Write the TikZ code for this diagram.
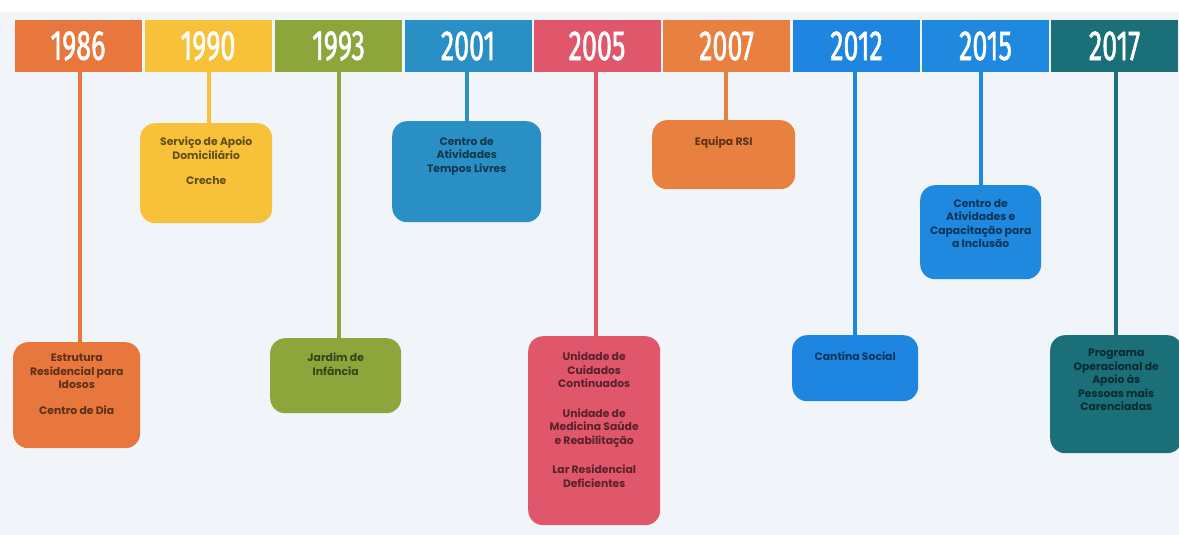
\documentclass[tikz,border=0pt]{standalone}
\usepackage{fontspec}
\usepackage{graphicx}
\setmainfont{Poppins}
\newfontface\yearfont{Fira Sans}[FakeBold=1.6]

\definecolor{c1986}{HTML}{E8773E}
\definecolor{c1990}{HTML}{F7C23A}
\definecolor{c1993}{HTML}{8DA63C}
\definecolor{c2001}{HTML}{2A8FC4}
\definecolor{c2005}{HTML}{E0566A}
\definecolor{c2007}{HTML}{E8803F}
\definecolor{c2012}{HTML}{1E86E0}
\definecolor{c2015}{HTML}{1F88DF}
\definecolor{c2017}{HTML}{1A6F78}
\definecolor{paper}{HTML}{F1F5F9}

\pgfdeclarelayer{bglayer}
\pgfdeclarelayer{stems}
\pgfsetlayers{bglayer,stems,main}

\tikzset{
  yearbox/.style={fill=#1, minimum width=127pt, minimum height=52pt, inner sep=0pt,
    text=white, font=\yearfont\fontsize{42}{42}\selectfont},
  eventbox/.style={fill=#1, rounded corners=15pt, inner sep=0pt, anchor=north west},
  eventtext/.style={text=#1!40!black, anchor=north, inner sep=0pt, align=center,
    font=\fontsize{10.8}{13.5}\selectfont\bfseries},
  stem/.style={draw=#1, line width=4pt}
}

\newcommand{\yr}[1]{\scalebox{0.64}[1]{#1}}

\begin{document}
\begin{tikzpicture}[x=1pt,y=-1pt]
\begin{pgfonlayer}{bglayer}
  \fill[white] (0,0) rectangle (1179,535);
  \fill[paper] (0,12) rectangle (1179,535);
\end{pgfonlayer}
\useasboundingbox (0,0) rectangle (1179,535);

% year headers
\node[yearbox=c1986] (y1986) at (78,46)   {\yr{1986}};
\node[yearbox=c1990] (y1990) at (208,46)  {\yr{1990}};
\node[yearbox=c1993] (y1993) at (338.5,46){\yr{1993}};
\node[yearbox=c2001] (y2001) at (468,46)  {\yr{2001}};
\node[yearbox=c2005] (y2005) at (597,46)  {\yr{2005}};
\node[yearbox=c2007] (y2007) at (726.5,46){\yr{2007}};
\node[yearbox=c2012] (y2012) at (856.5,46){\yr{2012}};
\node[yearbox=c2015] (y2015) at (985.5,46){\yr{2015}};
\node[yearbox=c2017] (y2017) at (1114.5,46){\yr{2017}};

% event boxes
\node[eventbox=c1986, minimum width=127pt, minimum height=106pt] (b1986) at (13,342) {};
\node[eventbox=c1990, minimum width=132pt, minimum height=100pt] (b1990) at (140,123) {};
\node[eventbox=c1993, minimum width=131pt, minimum height=75pt]  (b1993) at (270,338) {};
\node[eventbox=c2001, minimum width=149pt, minimum height=101pt] (b2001) at (392,121) {};
\node[eventbox=c2005, minimum width=132pt, minimum height=189pt] (b2005) at (528,336) {};
\node[eventbox=c2007, minimum width=143pt, minimum height=69pt]  (b2007) at (652,120) {};
\node[eventbox=c2012, minimum width=126pt, minimum height=66pt]  (b2012) at (792,335) {};
\node[eventbox=c2015, minimum width=121pt, minimum height=94pt]  (b2015) at (920,185) {};
\node[eventbox=c2017, minimum width=132pt, minimum height=118pt] (b2017) at (1050,335) {};

% texts
\node[eventtext=c1986] (t1986) at ([yshift=-12pt]b1986.north)
  {Estrutura\\Residencial para\\Idosos\\[12pt]Centro de Dia};
\node[eventtext=c1990] (t1990) at ([yshift=-14pt]b1990.north)
  {Serviço de Apoio\\Domiciliário\\[12pt]Creche};
\node[eventtext=c1993] (t1993) at ([yshift=-15pt]b1993.north)
  {Jardim de\\Infância};
\node[eventtext=c2001] (t2001) at ([yshift=-16pt]b2001.north)
  {Centro de\\Atividades\\Tempos Livres};
\node[eventtext=c2005] (t2005) at ([yshift=-16pt]b2005.north)
  {Unidade de\\Cuidados\\Continuados\\[16pt]Unidade de\\Medicina Saúde\\e Reabilitação\\[16pt]Lar Residencial\\Deficientes};
\node[eventtext=c2007] (t2007) at ([yshift=-17pt]b2007.north)
  {Equipa RSI};
\node[eventtext=c2012] (t2012) at ([yshift=-17pt]b2012.north)
  {Cantina Social};
\node[eventtext=c2015] (t2015) at ([yshift=-14pt]b2015.north)
  {Centro de\\Atividades e\\Capacitação para\\a Inclusão};
\node[eventtext=c2017] (t2017) at ([yshift=-14pt]b2017.north)
  {Programa\\Operacional de\\Apoio às\\Pessoas mais\\Carenciadas};

% stems from header to event box
\begin{pgfonlayer}{stems}
  \draw[stem=c1986] ([xshift=3pt]b1986.north) -- ([xshift=3pt]b1986.north |- y1986.south);
  \draw[stem=c1990] ([xshift=3pt]b1990.north) -- ([xshift=3pt]b1990.north |- y1990.south);
  \draw[stem=c1993] ([xshift=3pt]b1993.north) -- ([xshift=3pt]b1993.north |- y1993.south);
  \draw[stem=c2001] (b2001.north) -- (b2001.north |- y2001.south);
  \draw[stem=c2005] ([xshift=2pt]b2005.north) -- ([xshift=2pt]b2005.north |- y2005.south);
  \draw[stem=c2007] ([xshift=2pt]b2007.north) -- ([xshift=2pt]b2007.north |- y2007.south);
  \draw[stem=c2012] (b2012.north) -- (b2012.north |- y2012.south);
  \draw[stem=c2015] (b2015.north) -- (b2015.north |- y2015.south);
  \draw[stem=c2017] (b2017.north) -- (b2017.north |- y2017.south);
\end{pgfonlayer}
\end{tikzpicture}
\end{document}
